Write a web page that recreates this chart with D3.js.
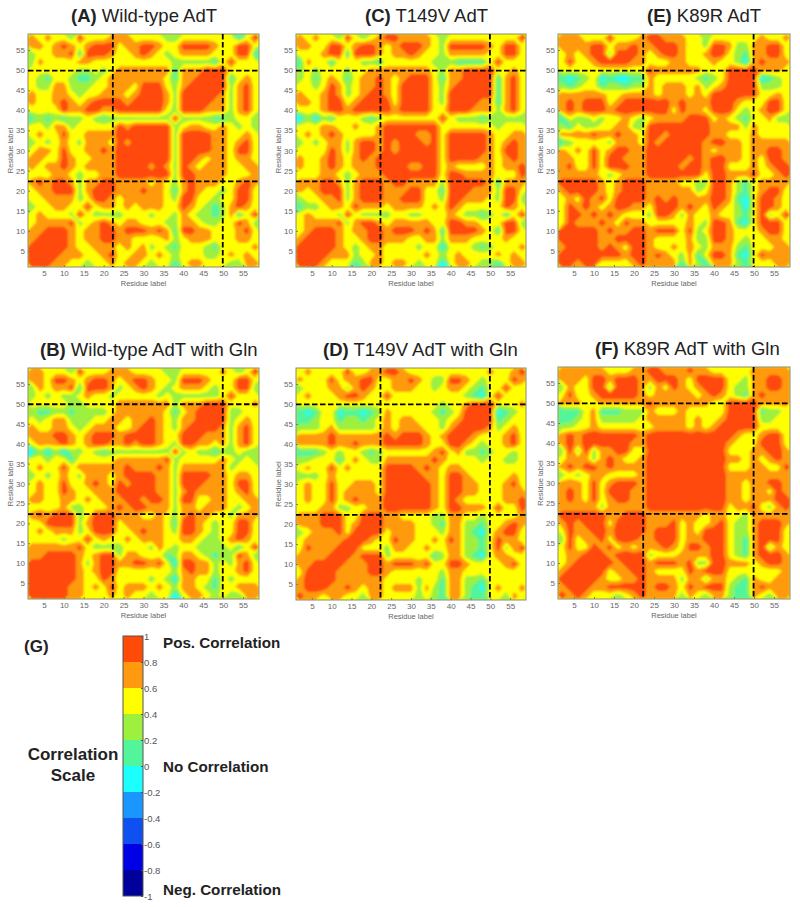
<!DOCTYPE html>
<html>
<head>
<meta charset="utf-8">
<script src="https://cdn.jsdelivr.net/npm/d3@7"></script>
<style>
body { margin: 0; background: #fff; }
text { font-family: "Liberation Sans", Arial, sans-serif; }
</style>
</head>
<body>
<div id="grafica"></div>
<script>
// correlation values in tenths, read off the picture on residues 2,4,...,58
// each list holds the rows from residue 2 upwards, the maps are symmetric so only c <= r is kept
var wildType = [
[9],[9,9],[9,9,9],[7,9,9,9],[7,7,9,9,9],[5,7,7,7,7,9],[5,7,5,5,5,3,9],[3,5,5,7,7,5,5,9],
[5,5,7,7,7,7,3,5,9],[5,7,7,9,9,9,3,7,9,9],[7,9,7,9,9,7,3,7,7,9,9],[5,5,5,7,7,5,3,5,5,7,7,9],
[7,5,7,7,9,7,5,7,7,7,7,9,9],[7,7,5,5,9,7,5,5,7,7,7,9,9,9],[5,7,7,5,9,5,5,7,7,9,7,9,9,9,9],
[3,5,3,5,7,5,3,7,7,7,5,9,7,9,9,9],[5,7,5,5,9,5,5,7,7,7,7,9,9,9,9,9,9],
[5,5,3,7,7,3,5,5,5,5,5,9,7,9,9,9,9,9],[1,3,1,3,1,3,3,5,3,1,3,3,3,3,3,3,3,3,9],
[5,5,5,5,9,7,7,9,9,7,7,9,9,9,9,9,9,5,3,9],[7,5,5,7,9,7,5,7,9,9,9,9,7,9,9,9,9,7,3,9,9],
[7,5,5,7,7,5,3,5,5,7,7,7,5,7,9,9,9,7,3,9,9,9],[5,3,3,7,7,3,3,3,5,5,7,7,7,5,9,9,9,5,3,7,9,9,9],
[5,3,1,5,5,3,1,1,3,5,7,7,7,7,7,7,7,5,1,7,7,9,9,9],[5,5,5,5,5,5,3,3,5,3,5,7,7,7,7,7,7,7,1,7,7,7,9,9,9],
[3,7,5,5,5,5,7,7,5,5,5,5,5,5,5,5,5,5,3,3,3,3,3,1,5,9],
[3,5,5,7,7,9,1,9,9,9,7,5,5,7,9,7,5,3,5,7,7,7,7,5,5,5,9,9],
[7,7,5,7,9,7,5,7,9,9,9,5,7,7,9,9,7,5,5,9,9,9,9,7,5,5,9,9,5],
[7,5,7,5,5,3,9,5,5,5,7,7,7,5,5,5,5,3,3,5,5,5,5,5,5,5,1,5,9]
];
var t149v = [
[9],[9,9],[9,9,9],[7,9,9,9],[5,7,9,9,9],[5,7,7,7,7,9],[5,7,5,5,5,3,9],[1,3,3,5,7,7,5,9],
[3,5,5,7,7,9,3,7,9],[7,5,7,9,9,9,3,7,9,9],[7,7,7,9,9,7,3,7,9,9,9],[5,5,5,7,7,5,3,5,7,7,7,9],
[7,5,5,7,9,7,5,7,7,7,9,9,9],[7,5,5,7,9,7,5,7,9,7,9,9,9,9],[5,5,5,5,9,7,3,7,9,9,7,9,7,9,9],
[3,5,3,5,7,7,3,7,9,9,7,9,7,9,9,9],[5,7,5,7,9,7,5,5,5,5,7,9,9,9,9,7,7],
[5,5,5,7,7,5,5,7,5,5,7,9,9,9,9,9,9,9],[-1,3,-1,3,1,5,5,5,3,1,3,5,5,5,5,5,5,5,9],
[5,5,5,7,9,9,7,9,9,9,9,9,7,9,9,9,9,5,5,9],[7,7,5,7,9,9,5,7,9,9,9,9,5,9,9,9,9,5,3,9,9],
[7,5,5,7,9,7,3,5,7,9,9,7,5,9,9,9,9,5,3,9,9,9],[5,5,3,5,9,7,3,5,7,7,9,7,5,9,9,9,9,5,3,7,9,9,9],
[3,5,1,5,7,5,1,5,7,7,9,7,5,7,9,9,9,5,1,7,7,9,9,9],[3,5,3,5,5,5,3,5,5,7,7,7,7,7,7,7,7,5,3,7,7,9,9,9,9],
[1,7,5,5,1,5,5,5,3,3,1,5,5,5,5,5,5,3,3,3,1,1,1,1,5,9],
[5,5,5,7,9,9,1,9,9,9,7,5,7,7,9,7,5,5,3,7,7,7,7,7,5,5,9,9],
[7,7,5,5,9,9,5,7,9,9,7,5,7,9,9,9,7,5,3,9,9,9,9,9,7,5,9,9,3],
[7,5,7,5,5,3,9,5,3,5,7,9,9,7,7,7,7,5,3,5,5,5,5,5,5,5,5,5,9]
];
var k89r = [
[9],[9,9],[7,9,9],[9,9,9,9],[9,9,9,9,9],[5,9,7,7,7,9],[5,9,9,7,9,7,9],[5,9,7,9,7,5,7,9],
[5,7,5,9,7,9,5,9,9],[7,9,9,9,9,7,5,7,9,9],[9,9,9,9,9,7,5,7,9,9,9],[7,7,7,7,7,5,3,5,7,7,7,9],
[7,9,5,5,9,5,9,9,9,7,7,9,9],[7,7,5,5,9,5,9,9,7,7,7,9,9,9],[7,5,7,5,9,5,7,9,9,7,7,9,9,9,9],
[1,3,5,5,5,5,3,7,7,7,5,9,7,9,9,9],[7,7,7,7,9,7,7,9,7,7,5,9,9,7,9,9,9],
[3,1,5,3,3,5,5,7,7,3,3,9,9,9,9,9,9,9],[1,5,3,3,5,3,5,5,7,5,3,5,7,7,7,7,9,9,9],
[7,9,7,9,9,9,7,9,9,9,9,9,9,9,5,9,7,7,5,9],[7,9,7,9,9,9,5,7,9,9,9,9,9,9,7,9,7,7,7,9,9],
[7,7,7,7,7,7,5,5,7,7,7,7,5,7,7,7,5,7,5,9,9,9],[3,1,3,5,5,1,3,3,1,3,3,7,5,7,7,7,5,7,3,5,7,9,9],
[1,-1,1,3,5,-1,1,-1,-1,1,1,7,5,5,5,5,5,3,1,3,5,9,9,9],[5,5,5,5,5,5,5,5,5,5,5,9,7,7,7,7,7,7,5,5,5,9,9,9,9],
[5,9,5,5,7,9,9,9,9,7,7,5,5,5,7,7,5,5,5,7,5,5,3,-1,7,9],
[5,7,5,7,9,9,3,9,9,9,7,5,7,9,9,7,5,5,7,9,9,5,3,1,7,7,9,9],
[7,7,7,7,9,9,5,7,7,9,7,7,9,9,9,7,5,5,3,9,9,7,3,3,7,7,9,9,5],
[7,7,7,5,5,5,9,5,5,5,7,9,9,7,7,7,5,5,3,5,5,5,5,5,5,7,5,5,7]
];
var wildTypeGln = [
[9],[9,9],[9,9,9],[9,9,9,9],[9,9,9,9,9],[7,7,9,9,9,9],[7,7,7,7,7,7,9],[5,5,5,5,3,5,5,9],
[5,7,5,7,7,7,3,5,9],[5,5,9,9,9,9,3,7,9,9],[7,9,7,9,9,9,3,5,9,9,9],[5,5,5,5,7,3,3,5,5,5,7,9],
[7,7,5,5,7,7,5,7,5,7,7,7,9],[5,7,5,5,9,7,5,5,7,7,7,9,9,9],[5,7,5,5,9,5,5,7,9,7,5,9,7,9,9],
[3,5,3,5,7,5,3,7,7,7,5,7,9,9,9,9],[5,7,5,5,9,5,7,7,7,7,7,7,9,7,7,7,9],
[5,5,3,5,5,1,5,5,5,5,5,7,7,7,7,7,7,9],[-1,3,-1,3,-1,3,3,5,3,1,3,3,3,3,3,3,3,3,9],
[5,7,7,7,9,7,5,7,9,9,7,7,9,7,9,9,7,5,3,9],[7,7,7,9,9,7,5,7,9,9,9,7,9,9,9,9,7,5,5,9,9],
[7,5,5,7,7,5,3,5,7,7,7,5,5,7,9,9,7,5,3,7,9,9],[5,3,5,7,7,3,3,3,5,5,7,7,5,7,7,9,7,5,3,7,7,9,9],
[3,1,1,3,3,1,3,3,3,3,5,7,7,7,7,7,7,5,1,5,7,9,9,9],[5,5,5,5,5,3,3,5,5,5,5,7,7,7,7,7,7,7,3,7,7,7,9,9,9],
[3,5,3,5,3,3,5,7,5,5,3,5,5,5,5,5,3,5,3,3,3,3,3,3,5,9],
[3,7,5,7,7,9,1,9,9,9,7,3,5,7,9,7,5,3,5,7,7,7,5,3,5,5,9,9],
[7,7,5,9,9,7,5,7,9,9,7,5,7,9,9,7,5,5,3,9,9,9,7,5,5,5,9,9,5],
[7,7,5,5,5,3,9,5,5,5,7,7,7,5,5,5,5,3,3,5,5,5,5,5,7,5,3,5,9]
];
var t149vGln = [
[9],[7,9],[7,9,9],[5,9,9,9],[7,7,9,9,9],[7,7,7,7,9,9],[5,9,7,7,7,9,9],[5,7,7,7,7,7,9,9],
[3,5,7,7,7,9,5,9,9],[7,7,7,9,9,9,5,7,9,9],[7,7,7,9,9,9,5,5,9,9,9],[5,5,5,7,7,3,3,5,5,7,7,9],
[5,7,5,5,9,5,7,9,7,7,7,9,9],[5,7,5,5,9,5,7,7,7,7,5,9,9,9],[5,7,5,5,9,5,5,7,7,7,5,9,9,9,9],
[3,3,3,5,7,5,5,5,5,5,5,9,9,9,9,9],[5,7,5,5,9,5,7,5,5,5,5,9,9,9,9,7,9],
[3,3,5,5,5,1,5,7,5,3,3,7,7,7,7,7,7,9],[1,1,1,3,5,3,5,5,3,1,3,5,5,5,5,5,5,7,9],
[7,7,7,7,9,7,7,9,7,7,7,9,9,9,9,9,7,5,5,9],[7,7,7,7,9,7,7,7,7,7,7,9,7,9,9,9,7,5,7,9,9],
[3,3,3,5,7,3,3,3,3,3,5,7,5,7,7,7,5,5,3,7,9,9],[1,1,3,5,5,1,3,3,1,3,5,7,5,7,7,5,5,5,3,5,7,9,9],
[1,-1,1,5,5,-1,1,1,-1,1,3,7,5,5,5,5,5,3,1,3,5,9,9,9],[5,5,5,5,5,5,5,5,5,5,5,5,5,5,5,5,5,5,3,5,5,7,9,9,9],
[5,7,5,5,5,7,9,9,7,5,5,9,5,5,5,5,5,5,5,5,5,3,1,-1,5,9],
[3,5,5,5,7,7,3,7,9,7,5,5,7,7,7,5,5,3,5,7,7,5,3,1,5,5,9,9],
[7,5,5,5,9,5,7,7,9,9,5,5,7,7,9,7,5,3,3,9,9,7,5,3,5,5,5,9,5],
[5,7,5,5,5,5,9,5,5,7,7,9,9,7,5,5,5,5,5,5,5,5,5,5,7,5,5,7,9]
];
var k89rGln = [
[9],[7,9],[9,9,9],[7,9,9,9],[5,7,9,9,9],[5,7,7,9,9,9],[5,9,5,5,9,7,9],[3,9,5,7,7,9,5,9],
[5,9,7,7,9,9,7,9,9],[7,9,7,9,9,9,5,9,9,9],[9,9,9,9,9,9,7,7,9,9,9],[7,7,7,7,7,3,7,7,7,7,7,9],
[7,9,7,5,9,5,7,9,9,7,7,9,9],[7,9,7,5,9,5,9,9,9,7,7,9,9,9],[7,7,7,5,9,5,7,9,9,9,7,9,9,9,9],
[3,5,3,5,7,7,5,5,5,5,7,9,9,9,9,9],[7,9,7,9,9,7,9,7,7,7,7,9,9,9,9,9,9],
[5,7,7,7,3,7,9,7,5,5,7,9,9,9,9,9,9,9],[3,9,3,9,3,7,7,9,9,5,5,9,9,9,9,9,9,9,9],
[7,9,7,9,9,9,9,9,9,7,7,9,9,9,9,9,9,9,9,9],[7,9,7,9,9,9,9,9,9,9,7,9,9,9,9,9,9,9,9,9,9],
[3,3,5,5,7,5,5,5,5,5,5,5,7,7,7,7,5,7,5,7,9,9],[1,1,3,5,7,3,3,3,3,3,5,7,7,7,7,7,5,7,5,5,7,9,9],
[1,1,1,5,7,1,1,1,3,3,3,7,5,5,5,7,5,5,5,5,5,9,9,9],[7,7,7,5,5,7,7,7,7,7,7,9,7,7,7,7,7,7,7,5,5,9,9,9,9],
[5,9,5,5,7,9,9,9,9,9,7,5,7,7,7,7,7,5,7,9,7,5,3,1,7,9],
[3,7,5,5,9,9,3,9,9,9,7,3,7,5,9,7,5,7,9,9,9,5,3,3,7,7,9,9],
[7,7,7,5,9,9,7,9,9,9,7,7,9,9,9,7,5,9,9,9,9,5,5,3,7,7,9,9,5],
[7,7,7,7,7,7,5,5,5,7,7,9,9,7,7,7,9,7,7,5,5,5,5,5,7,7,7,7,7]
];

var panelTitles = ["(A)", "(C)", "(E)", "(B)", "(D)", "(F)"];
var panelNames = ["Wild-type AdT", "T149V AdT", "K89R AdT", "Wild-type AdT with Gln", "T149V AdT with Gln", "K89R AdT with Gln"];
var panelData = [wildType, t149v, k89r, wildTypeGln, t149vGln, k89rGln];
var residueTicks = [5, 10, 15, 20, 25, 30, 35, 40, 45, 50, 55];
var domainBreaks = [22.3, 49.9];

var bandEdges = [-1, -0.8, -0.6, -0.4, -0.2, 0, 0.2, 0.4, 0.6, 0.8];
var bandColors = ["#00009a", "#0000e6", "#0f50f0", "#1a96ff", "#1cffff", "#52f59a", "#9df03d", "#ffff00", "#ff9a10", "#ff4a08"];
var scaleLabels = ["-1", "-0.8", "-0.6", "-0.4", "-0.2", "0", "0.2", "0.4", "0.6", "0.8", "1"];
var scaleTicks = [-1, -0.8, -0.6, -0.4, -0.2, 0, 0.2, 0.4, 0.6, 0.8, 1];

// where each panel sits on the page: left, right, top, bottom, title x, title baseline
var boxes = [
  {l: 28, r: 259, t: 34, b: 267, tx: 71, ty: 22, lx: 13},
  {l: 296, r: 526, t: 34, b: 267, tx: 365, ty: 22, lx: 281},
  {l: 558, r: 790, t: 34, b: 267, tx: 647, ty: 22, lx: 543},
  {l: 28, r: 259, t: 368, b: 599, tx: 40, ty: 356, lx: 13},
  {l: 296, r: 526, t: 368, b: 600, tx: 323, ty: 356, lx: 281},
  {l: 558, r: 790, t: 367, b: 599, tx: 595, ty: 355, lx: 543}
];

var svg = d3.select("#grafica")
  .append("svg")
  .attr("width", 800)
  .attr("height", 907);

// the picture is a soft scan, a small blur brings the bands closer to it
svg.append("defs").append("filter")
  .attr("id", "soft")
  .append("feGaussianBlur")
  .attr("stdDeviation", 0.9);

// grid size: residues 2,4,...,58
var n = 29;

function drawPanel(rows, box, i) {
  var x = d3.scaleLinear().domain([1, 59]).range([box.l, box.r]);
  var y = d3.scaleLinear().domain([1, 59]).range([box.b, box.t]);

  // rebuild the full symmetric matrix
  var values = [];
  for (var r = 0; r < n; r++) {
    for (var c = 0; c < n; c++) {
      values.push(rows[Math.max(r, c)][Math.min(r, c)] / 10);
    }
  }

  var contours = d3.contours().size([n, n]).thresholds(bandEdges)(values);

  var toPage = d3.geoTransform({
    point: function(a, b) { this.stream.point(x(1 + 2 * a), y(1 + 2 * b)); }
  });
  var path = d3.geoPath(toPage);

  svg.append("clipPath")
    .attr("id", "clip" + i)
    .append("rect")
    .attr("x", box.l).attr("y", box.t)
    .attr("width", box.r - box.l).attr("height", box.b - box.t);

  var holder = svg.append("g").attr("clip-path", "url(#clip" + i + ")");
  holder.append("rect")
    .attr("x", box.l).attr("y", box.t)
    .attr("width", box.r - box.l).attr("height", box.b - box.t)
    .attr("fill", "#ffff00");

  holder.append("g")
    .attr("filter", "url(#soft)")
    .selectAll("path")
    .data(contours)
    .join("path")
    .attr("d", path)
    .attr("fill", function(d, k) { return bandColors[k]; });

  // axes, ticks point inwards like matlab
  var xAxis = svg.append("g")
    .attr("transform", `translate(0, ${box.b})`)
    .call(d3.axisBottom(x).tickValues(residueTicks).tickSizeInner(-2).tickSizeOuter(0).tickPadding(3));
  var yAxis = svg.append("g")
    .attr("transform", `translate(${box.l}, 0)`)
    .call(d3.axisLeft(y).tickValues(residueTicks).tickSizeInner(-2).tickSizeOuter(0).tickPadding(3));
  [xAxis, yAxis].forEach(function(a) {
    a.selectAll("text").style("font-size", "8px").attr("fill", "#666");
    a.selectAll("line").attr("stroke", "#777");
    a.select(".domain").attr("stroke", "none");
  });

  svg.append("rect")
    .attr("x", box.l).attr("y", box.t)
    .attr("width", box.r - box.l).attr("height", box.b - box.t)
    .attr("fill", "none")
    .attr("stroke", "#8a8a70");

  // dashed lines at the domain breaks
  domainBreaks.forEach(function(d) {
    svg.append("line")
      .attr("x1", box.l).attr("x2", box.r)
      .attr("y1", y(d)).attr("y2", y(d))
      .attr("stroke", "#000").attr("stroke-width", 1.8)
      .attr("stroke-dasharray", "5.5,2.5");
    svg.append("line")
      .attr("x1", x(d)).attr("x2", x(d))
      .attr("y1", box.t).attr("y2", box.b)
      .attr("stroke", "#000").attr("stroke-width", 1.8)
      .attr("stroke-dasharray", "5.5,2.5");
  });

  svg.append("text")
    .attr("x", (box.l + box.r) / 2)
    .attr("y", box.b + 19)
    .style("text-anchor", "middle")
    .style("font-size", "7.5px")
    .attr("fill", "#666")
    .text("Residue label");

  svg.append("text")
    .attr("transform", `translate(${box.lx}, ${(box.t + box.b) / 2}) rotate(-90)`)
    .style("text-anchor", "middle")
    .style("font-size", "7.5px")
    .attr("fill", "#666")
    .text("Residue label");

  var title = svg.append("text")
    .attr("x", box.tx)
    .attr("y", box.ty)
    .style("font-size", "18.5px")
    .attr("fill", "#222");
  title.append("tspan").style("font-weight", "bold").text(panelTitles[i]);
  title.append("tspan").text(" " + panelNames[i]);
}

panelData.forEach(function(rows, i) { drawPanel(rows, boxes[i], i); });

// colour scale (G)
var barY = d3.scaleLinear().domain([-1, 1]).range([896, 636]);

svg.selectAll(".band")
  .data(bandEdges)
  .join("rect")
  .attr("class", "band")
  .attr("x", 123)
  .attr("width", 20)
  .attr("y", function(d) { return barY(d + 0.2); })
  .attr("height", function(d) { return barY(d) - barY(d + 0.2); })
  .attr("fill", function(d, k) { return bandColors[k]; });

svg.append("rect")
  .attr("x", 123).attr("y", 636)
  .attr("width", 20).attr("height", 260)
  .attr("fill", "none")
  .attr("stroke", "#555");

var barAxis = svg.append("g")
  .attr("transform", "translate(143, 0)")
  .call(d3.axisRight(barY)
    .tickValues(scaleTicks)
    .tickFormat(function(d, k) { return scaleLabels[k]; })
    .tickSizeInner(-2).tickSizeOuter(0).tickPadding(1));
barAxis.selectAll("text").style("font-size", "9.5px").attr("fill", "#555");
barAxis.selectAll("line").attr("stroke", "#555");
barAxis.select(".domain").attr("stroke", "none");

var notes = [
  {s: "(G)", x: 24, y: 652, size: 17, anchor: "start"},
  {s: "Pos. Correlation", x: 163, y: 648, size: 15.2, anchor: "start"},
  {s: "No Correlation", x: 163, y: 772, size: 15.2, anchor: "start"},
  {s: "Neg. Correlation", x: 163, y: 895, size: 15.2, anchor: "start"},
  {s: "Correlation", x: 73, y: 760, size: 17, anchor: "middle"},
  {s: "Scale", x: 73, y: 781, size: 17, anchor: "middle"}
];
svg.selectAll(".note")
  .data(notes)
  .join("text")
  .attr("class", "note")
  .attr("x", function(d) { return d.x; })
  .attr("y", function(d) { return d.y; })
  .style("text-anchor", function(d) { return d.anchor; })
  .style("font-size", function(d) { return d.size + "px"; })
  .style("font-weight", "bold")
  .attr("fill", "#222")
  .text(function(d) { return d.s; });
</script>
</body>
</html>
